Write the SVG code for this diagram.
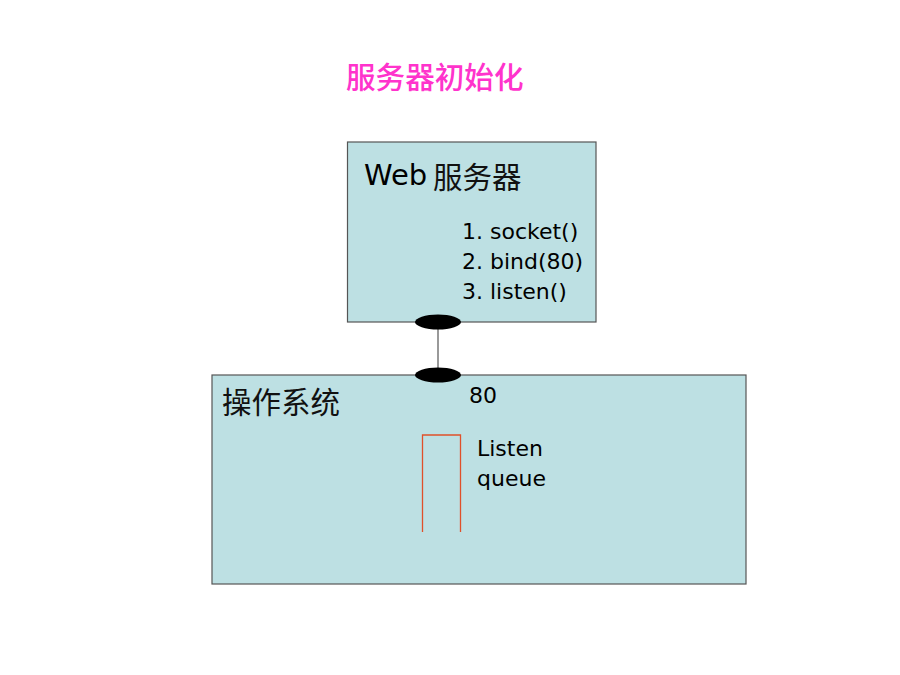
<svg xmlns="http://www.w3.org/2000/svg" width="900" height="675" viewBox="0 0 900 675">
<style>
.box{fill:#BDE0E3;stroke:#555;stroke-width:1.2}
.t{font-family:"DejaVu Sans","Noto Sans CJK SC",sans-serif;fill:#000}
.cjk{font-family:"Noto Sans CJK SC",sans-serif;fill:#111}
.port{fill:#000}
</style>
<rect width="900" height="675" fill="#fff"/>
<text x="346" y="88" class="cjk" style="fill:#FF33CC;font-size:29.6px;font-weight:500">服务器初始化</text>
<g id="connectors">
<line x1="438" y1="322" x2="438" y2="375" stroke="#555" stroke-width="1.2"/>
</g>
<g id="os">
<rect class="box" x="212" y="375" width="534" height="209"/>
<text x="222" y="413" class="cjk" style="font-size:29.5px">操作系统</text>
<text x="469" y="403" class="t" style="font-size:22px">80</text>
<polyline points="422.5,532 422.5,435 460.5,435 460.5,532" fill="none" stroke="#E0502A" stroke-width="1.3"/>
<text x="477" y="456" class="t" style="font-size:22px">Listen</text>
<text x="477" y="486" class="t" style="font-size:22px">queue</text>
</g>
<g id="web">
<rect class="box" x="347.5" y="142" width="248.5" height="180"/>
<text x="364" y="185" class="t" style="font-size:29px">Web</text>
<text x="433" y="188" class="cjk" style="font-size:29.5px">服务器</text>
<text x="462" y="239" class="t" style="font-size:22px">1. socket()</text>
<text x="462" y="269" class="t" style="font-size:22px">2. bind(80)</text>
<text x="462" y="299" class="t" style="font-size:22px">3. listen()</text>
</g>
<g id="port-top"><ellipse class="port" cx="438" cy="322" rx="23" ry="7.5"/></g>
<g id="port-bottom"><ellipse class="port" cx="438" cy="375" rx="23" ry="7.5"/></g>
</svg>
